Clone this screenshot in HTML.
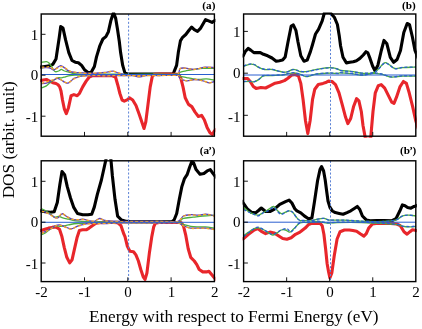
<!DOCTYPE html>
<html><head><meta charset="utf-8"><title>DOS</title>
<style>
html,body{margin:0;padding:0;background:#fff;}
body{width:422px;height:329px;overflow:hidden;}
svg{display:block;will-change:transform;}
text{font-family:"Liberation Serif",serif;fill:#000;}
</style></head><body>
<svg width="422" height="329" viewBox="0 0 422 329">
<defs>
<clipPath id="ca"><rect x="40.2" y="12.4" width="175.2" height="125.4"/></clipPath>
<clipPath id="cb"><rect x="242.6" y="12.4" width="174.2" height="125.4"/></clipPath>
<clipPath id="cap"><rect x="40.2" y="159.2" width="175.2" height="124"/></clipPath>
<clipPath id="cbp"><rect x="242.6" y="159.2" width="174.2" height="124"/></clipPath>
</defs>
<g clip-path="url(#ca)">
<path d="M39 67.2 L41.3 67 L45 66.5 L49.6 65.9 L52.8 64.4 L56 59 L59.2 37.7 L60.7 26.6 L63 28.1 L65.6 39.9 L68.8 52.6 L72 60.5 L75.2 62.2 L78.4 62.7 L81.6 65.4 L84.8 70.1 L88 72.5 L91.2 72.3 L94.4 66.5 L96.5 56.9 L99.7 46.2 L102.9 39 L105.9 36.6 L108.4 31.7 L110.8 20.8 L113.5 12.5 L115.7 18.4 L117.5 29.3 L119.3 41.5 L120.6 52.6 L122.7 65.4 L124.9 72.9 L127.4 74 L130 74 L173 74 L174 71.8 L176.6 65.4 L178.3 52.6 L180.4 40.9 L182.6 37.3 L185.8 34.5 L189 30.3 L191.7 27.1 L194.3 29.6 L197.5 31.3 L200.7 28.1 L205.6 19.6 L209.2 21.1 L212 22.4 L214.5 20.7 L217 20" fill="none" stroke="#000" stroke-width="3.1" stroke-linejoin="round" stroke-linecap="round"/>
<path d="M39 81 L43.2 80 L46.4 79.5 L49.6 81.1 L52.8 82.7 L56 83.5 L58.1 84.8 L59.7 86.9 L61 91 L62.5 100 L64.3 108.8 L66.3 113.6 L68.5 107.7 L71.1 95.7 L73.9 94.6 L77.2 95.7 L79.4 93.5 L82.7 86.9 L86 81.4 L89.3 77 L92.6 75.6 L97 75.6 L101.3 75.4 L105.7 75.6 L112.3 75.7 L115.5 77 L117.7 84.7 L119.9 93.5 L122.1 100 L124.3 101.1 L127.6 99.6 L129.4 97.8 L132.7 100 L136 105.5 L139.2 114.3 L142.5 124.1 L144 128.5 L145.8 121.9 L148 104.4 L150.2 86.9 L152.4 75.9 L154.6 74.2 L160 74.1 L178.6 74.2 L180.8 78.1 L183 86.9 L185.2 97.8 L188.5 104.4 L191.8 106.6 L195.1 112.1 L198.4 116.5 L201.6 115.4 L204.3 119.7 L207.1 127.4 L210 132.8 L212.3 134.5 L214.5 130.7 L217 129" fill="none" stroke="#e8262b" stroke-width="3.1" stroke-linejoin="round" stroke-linecap="round"/>
<path d="M41.3 62.4 C42.15 62.27 45.12 61.5 46.4 61.6 C47.68 61.7 48.12 62.15 49 63 C49.88 63.85 50.72 65.28 51.7 66.7 C52.68 68.12 53.75 70.78 54.9 71.5 C56.05 72.22 57.53 71.35 58.6 71 C59.67 70.65 60.32 69.4 61.3 69.4 C62.28 69.4 63.27 70.57 64.5 71 C65.73 71.43 67.12 71.57 68.7 72 C70.28 72.43 72.12 73.25 74 73.6 C75.88 73.95 77.33 73.98 80 74.1 C82.67 74.22 85 74.3 90 74.3 C95 74.3 103.33 74.1 110 74.1 C116.67 74.1 121.67 74.28 130 74.3 C138.33 74.32 152.12 74.22 160 74.2 C167.88 74.18 173.98 74.52 177.3 74.2 C180.62 73.88 178.37 72.88 179.9 72.3 C181.43 71.72 184.07 71.2 186.5 70.7 C188.93 70.2 191.83 69.7 194.5 69.3 C197.17 68.9 199.17 68.47 202.5 68.3 C205.83 68.13 212.5 68.3 214.5 68.3" fill="none" stroke="#4caf3c" stroke-width="1.3" stroke-linejoin="round"/>
<path d="M41.3 88 C42.15 87.65 44.85 86.88 46.4 85.9 C47.95 84.92 49.18 83.17 50.6 82.1 C52.02 81.03 53.65 80.25 54.9 79.5 C56.15 78.75 57.03 77.87 58.1 77.6 C59.17 77.33 60.07 78.03 61.3 77.9 C62.53 77.77 64.08 77.17 65.5 76.8 C66.92 76.43 68.2 75.97 69.8 75.7 C71.4 75.43 71.73 75.35 75.1 75.2 C78.47 75.05 84.18 74.87 90 74.8 C95.82 74.73 103.33 74.78 110 74.8 C116.67 74.82 121.67 74.9 130 74.9 C138.33 74.9 152.12 74.87 160 74.8 C167.88 74.73 173.98 74.27 177.3 74.5 C180.62 74.73 178.37 75.68 179.9 76.2 C181.43 76.72 184.28 77.15 186.5 77.6 C188.72 78.05 190.98 78.58 193.2 78.9 C195.42 79.22 197.6 79.5 199.8 79.5 C202 79.5 203.95 78.78 206.4 78.9 C208.85 79.02 213.15 79.98 214.5 80.2" fill="none" stroke="#4caf3c" stroke-width="1.3" stroke-linejoin="round"/>
<path d="M41.3 67.2 C42.15 67.27 44.85 67.42 46.4 67.6 C47.95 67.78 49.37 67.92 50.6 68.3 C51.83 68.68 52.73 69.98 53.8 69.9 C54.87 69.82 55.85 68.52 57 67.8 C58.15 67.08 59.45 65.6 60.7 65.6 C61.95 65.6 63.33 67 64.5 67.8 C65.67 68.6 66.47 69.7 67.7 70.4 C68.93 71.1 70.48 71.63 71.9 72 C73.32 72.37 74.85 72.5 76.2 72.6 C77.55 72.7 77.97 72.5 80 72.6 C82.03 72.7 85.9 73.08 88.4 73.2 C90.9 73.32 93.07 73.37 95 73.3 C96.93 73.23 98.33 72.93 100 72.8 C101.67 72.67 103.33 72.72 105 72.5 C106.67 72.28 108.67 71.72 110 71.5 C111.33 71.28 111.83 71.03 113 71.2 C114.17 71.37 115.67 72.07 117 72.5 C118.33 72.93 119.5 73.42 121 73.8 C122.5 74.18 123.67 74.57 126 74.8 C128.33 75.03 131 75.13 135 75.2 C139 75.27 145 75.2 150 75.2 C155 75.2 160.45 75.27 165 75.2 C169.55 75.13 174.82 75.85 177.3 74.8 C179.78 73.75 178.8 70.03 179.9 68.9 C181 67.77 182.35 68 183.9 68 C185.45 68 187.43 68.68 189.2 68.9 C190.97 69.12 192.73 69.4 194.5 69.3 C196.27 69.2 198.03 68.65 199.8 68.3 C201.57 67.95 202.65 67.32 205.1 67.2 C207.55 67.08 212.93 67.53 214.5 67.6" fill="none" stroke="#5a3cc0" stroke-width="1.3" stroke-linejoin="round"/>
<path d="M41.3 83.7 C42.15 83.62 44.85 83.63 46.4 83.2 C47.95 82.77 49.37 81.63 50.6 81.1 C51.83 80.57 52.73 80.45 53.8 80 C54.87 79.55 55.75 78.4 57 78.4 C58.25 78.4 60.05 79.38 61.3 80 C62.55 80.62 63.43 81.57 64.5 82.1 C65.57 82.63 66.63 83.37 67.7 83.2 C68.77 83.03 69.85 81.9 70.9 81.1 C71.95 80.3 72.95 79.03 74 78.4 C75.05 77.77 76.2 77.65 77.2 77.3 C78.2 76.95 78.7 76.55 80 76.3 C81.3 76.05 82.5 75.93 85 75.8 C87.5 75.67 91.67 75.5 95 75.5 C98.33 75.5 101.67 75.8 105 75.8 C108.33 75.8 111.67 75.55 115 75.5 C118.33 75.45 122 75.48 125 75.5 C128 75.52 130.83 75.38 133 75.6 C135.17 75.82 136.5 76.65 138 76.8 C139.5 76.95 140.67 76.72 142 76.5 C143.33 76.28 143 75.67 146 75.5 C149 75.33 154.78 75.58 160 75.5 C165.22 75.42 173.98 74.55 177.3 75 C180.62 75.45 178.37 77.22 179.9 78.2 C181.43 79.18 184.07 80.68 186.5 80.9 C188.93 81.12 192.28 79.62 194.5 79.5 C196.72 79.38 198.03 79.87 199.8 80.2 C201.57 80.53 203.55 81.05 205.1 81.5 C206.65 81.95 207.53 82.9 209.1 82.9 C210.67 82.9 213.6 81.73 214.5 81.5" fill="none" stroke="#5a3cc0" stroke-width="1.3" stroke-linejoin="round"/>
<path d="M41.3 67.2 C42.15 67.2 45.02 67.28 46.4 67.2 C47.78 67.12 48.37 66.33 49.6 66.7 C50.83 67.07 52.57 69.13 53.8 69.4 C55.03 69.67 55.75 68.75 57 68.3 C58.25 67.85 59.97 66.78 61.3 66.7 C62.63 66.62 63.93 67.27 65 67.8 C66.07 68.33 66.55 69.2 67.7 69.9 C68.85 70.6 69.85 71.55 71.9 72 C73.95 72.45 77.98 72.38 80 72.6 C82.02 72.82 82.33 73.18 84 73.3 C85.67 73.42 87.33 73.37 90 73.3 C92.67 73.23 97.5 73.02 100 72.9 C102.5 72.78 103.33 72.82 105 72.6 C106.67 72.38 108.67 71.87 110 71.6 C111.33 71.33 111.83 70.87 113 71 C114.17 71.13 115.67 71.93 117 72.4 C118.33 72.87 119.5 73.37 121 73.8 C122.5 74.23 123.67 74.73 126 75 C128.33 75.27 131 75.35 135 75.4 C139 75.45 145 75.3 150 75.3 C155 75.3 160.45 75.48 165 75.4 C169.55 75.32 174.82 75.88 177.3 74.8 C179.78 73.72 178.8 70 179.9 68.9 C181 67.8 182.35 68.2 183.9 68.2 C185.45 68.2 187.43 68.68 189.2 68.9 C190.97 69.12 192.73 69.6 194.5 69.5 C196.27 69.4 198.03 68.65 199.8 68.3 C201.57 67.95 202.65 67.52 205.1 67.4 C207.55 67.28 212.93 67.57 214.5 67.6" fill="none" stroke="#f5a623" stroke-width="1.3" stroke-linejoin="round" stroke-dasharray="3 2"/>
<path d="M41.3 83.2 C42.15 83.02 44.85 82.55 46.4 82.1 C47.95 81.65 49.37 80.9 50.6 80.5 C51.83 80.1 52.73 80.13 53.8 79.7 C54.87 79.27 55.75 77.85 57 77.9 C58.25 77.95 60.05 79.3 61.3 80 C62.55 80.7 63.43 81.62 64.5 82.1 C65.57 82.58 66.63 83.07 67.7 82.9 C68.77 82.73 69.85 81.77 70.9 81.1 C71.95 80.43 72.48 79.7 74 78.9 C75.52 78.1 78.17 76.78 80 76.3 C81.83 75.82 82.5 76.17 85 76 C87.5 75.83 91.67 75.32 95 75.3 C98.33 75.28 101.67 75.88 105 75.9 C108.33 75.92 111.67 75.45 115 75.4 C118.33 75.35 122 75.57 125 75.6 C128 75.63 130.83 75.43 133 75.6 C135.17 75.77 136.5 76.48 138 76.6 C139.5 76.72 140.67 76.47 142 76.3 C143.33 76.13 143 75.72 146 75.6 C149 75.48 154.78 75.7 160 75.6 C165.22 75.5 173.98 74.57 177.3 75 C180.62 75.43 178.37 77.22 179.9 78.2 C181.43 79.18 184.07 80.68 186.5 80.9 C188.93 81.12 192.28 79.62 194.5 79.5 C196.72 79.38 198.03 79.87 199.8 80.2 C201.57 80.53 203.55 81.05 205.1 81.5 C206.65 81.95 207.53 82.9 209.1 82.9 C210.67 82.9 213.6 81.73 214.5 81.5" fill="none" stroke="#f5a623" stroke-width="1.3" stroke-linejoin="round" stroke-dasharray="3 2"/>
<line x1="41.2" y1="74.5" x2="214.4" y2="74.5" stroke="#2a5fd0" stroke-width="1"/>
<line x1="128.6" y1="14" x2="128.6" y2="136.2" stroke="#5b82d6" stroke-width="1" stroke-dasharray="2.1 1.8"/>
</g>
<rect x="41.2" y="14" width="173.2" height="122.2" fill="none" stroke="#000" stroke-width="1.4"/>
<line x1="84.5" y1="136.2" x2="84.5" y2="131.9" stroke="#000" stroke-width="0.9"/>
<line x1="127.8" y1="136.2" x2="127.8" y2="131.9" stroke="#000" stroke-width="0.9"/>
<line x1="171.1" y1="136.2" x2="171.1" y2="131.9" stroke="#000" stroke-width="0.9"/>
<line x1="41.2" y1="34.3" x2="45.5" y2="34.3" stroke="#000" stroke-width="0.9"/>
<line x1="41.2" y1="75.2" x2="45.5" y2="75.2" stroke="#000" stroke-width="0.9"/>
<line x1="41.2" y1="116.2" x2="45.5" y2="116.2" stroke="#000" stroke-width="0.9"/>
<text x="38.2" y="40.3" font-size="15" text-anchor="end">1</text>
<text x="38.2" y="80.4" font-size="15" text-anchor="end">0</text>
<text x="38.2" y="122.4" font-size="15" text-anchor="end">-1</text>
<g clip-path="url(#cb)">
<path d="M241 56.5 L243.2 55.8 L245.3 51.6 L248.1 48.4 L250.7 50.1 L253.9 52.6 L257.1 52.6 L260.3 52.6 L263.5 54.3 L267.7 55.8 L272 58 L276.2 61.2 L279.4 60.7 L282.6 60.1 L285.2 56.9 L288 42 L291.2 26 L293.3 24.9 L295.9 30.3 L298 42 L300.8 55.8 L304 61.2 L307.2 60.1 L310.4 51.6 L312.4 45 L315.5 34 L318.5 29.3 L322.2 20.8 L324.5 12.5 L330 12.5 L334.3 17.2 L337.4 24.5 L339.2 35.4 L340.6 46 L343 57.3 L346.4 62.9 L349.8 62.3 L353.2 61.8 L356.5 60.7 L359.9 58.4 L363.3 55 L366 51.7 L367.8 52.8 L370 58.4 L372.7 66.3 L375 70.8 L377.9 65.2 L381.3 50.5 L384 40.4 L386.9 43.8 L390.3 57.3 L393.7 62.3 L397.1 59.5 L400.5 50.5 L403.8 32.5 L407.2 23.5 L409.5 24.6 L412.4 37 L415 50.5 L418 58" fill="none" stroke="#000" stroke-width="3.1" stroke-linejoin="round" stroke-linecap="round"/>
<path d="M241 78.5 L242.8 78.5 L247.6 78.5 L250.4 81.8 L253.3 86.5 L256.1 88.4 L260.9 87.5 L265.6 88 L270.3 85.6 L275.1 83.2 L279.8 82.3 L284.4 80.6 L287.9 78.2 L291.4 75.2 L294.9 74.5 L298.4 75.9 L300.8 83.4 L303.1 99.7 L305.5 120.8 L307.8 133.6 L310.1 120.8 L312.5 99.7 L314.8 89.2 L318.3 84.5 L323 83.4 L326.5 82.2 L328.5 81.1 L332 81.5 L335.5 84.6 L339 92.8 L342.5 105.6 L345.6 117.3 L347.9 123.6 L350.7 118.5 L353.5 106.8 L356.6 98.6 L358.9 100.9 L361.3 111.5 L363 125.5 L365.5 139 L370.6 139 L373 111.5 L375.3 92.8 L378.3 85.7 L381.2 84.6 L384.7 88.1 L388.2 95.1 L391.7 102.1 L394 103.3 L396.4 97.4 L399.9 86.9 L403.4 81.5 L406.4 83.4 L409.2 92.8 L412.7 106.8 L415.8 120.8 L418 128" fill="none" stroke="#e8262b" stroke-width="3.1" stroke-linejoin="round" stroke-linecap="round"/>
<path d="M243.5 66.2 C244.5 65.88 247.72 64.55 249.5 64.3 C251.28 64.05 252.62 64.15 254.2 64.7 C255.78 65.25 257.27 66.8 259 67.6 C260.73 68.4 262.4 69.18 264.6 69.5 C266.8 69.82 270.13 69.27 272.2 69.5 C274.27 69.73 275.62 70.57 277 70.9 C278.38 71.23 279.23 71.28 280.5 71.5 C281.77 71.72 283.23 72.25 284.6 72.2 C285.97 72.15 287.32 71.67 288.7 71.2 C290.08 70.73 291.52 69.58 292.9 69.4 C294.28 69.22 295.87 69.75 297 70.1 C298.13 70.45 298.23 71.25 299.7 71.5 C301.17 71.75 303.75 71.78 305.8 71.6 C307.85 71.42 309.95 70.8 312 70.4 C314.05 70 316.05 69.58 318.1 69.2 C320.15 68.82 322.25 68.37 324.3 68.1 C326.35 67.83 328.35 67.52 330.4 67.6 C332.45 67.68 334.8 68.12 336.6 68.6 C338.4 69.08 338.73 70.03 341.2 70.5 C343.67 70.97 347.82 70.93 351.4 71.4 C354.98 71.87 359.07 73.05 362.7 73.3 C366.33 73.55 370.67 73.53 373.2 72.9 C375.73 72.27 376.02 71.18 377.9 69.5 C379.78 67.82 382.6 63.6 384.5 62.8 C386.4 62 387.55 63.75 389.3 64.7 C391.05 65.65 392.78 68.02 395 68.5 C397.22 68.98 399.45 67.82 402.6 67.6 C405.75 67.38 411.67 67.27 413.9 67.2 C416.13 67.13 415.65 67.2 416 67.2" fill="none" stroke="#4caf3c" stroke-width="1.3" stroke-linejoin="round"/>
<path d="M243.5 66 C244.5 65.68 247.72 64.35 249.5 64.1 C251.28 63.85 252.62 63.95 254.2 64.5 C255.78 65.05 257.27 66.6 259 67.4 C260.73 68.2 262.4 68.98 264.6 69.3 C266.8 69.62 270.13 69.07 272.2 69.3 C274.27 69.53 275.62 70.32 277 70.7 C278.38 71.08 279.23 71.3 280.5 71.6 C281.77 71.9 283.23 72.52 284.6 72.5 C285.97 72.48 287.32 71.97 288.7 71.5 C290.08 71.03 291.52 69.88 292.9 69.7 C294.28 69.52 295.87 70.15 297 70.4 C298.13 70.65 298.23 70.97 299.7 71.2 C301.17 71.43 303.75 71.9 305.8 71.8 C307.85 71.7 309.95 71 312 70.6 C314.05 70.2 316.05 69.78 318.1 69.4 C320.15 69.02 322.25 68.57 324.3 68.3 C326.35 68.03 328.35 67.72 330.4 67.8 C332.45 67.88 334.8 68.32 336.6 68.8 C338.4 69.28 338.73 70.23 341.2 70.7 C343.67 71.17 347.82 71.2 351.4 71.6 C354.98 72 359.07 72.92 362.7 73.1 C366.33 73.28 370.67 73.27 373.2 72.7 C375.73 72.13 376.02 71.3 377.9 69.7 C379.78 68.1 382.6 63.88 384.5 63.1 C386.4 62.32 387.55 64.07 389.3 65 C391.05 65.93 392.78 68.3 395 68.7 C397.22 69.1 399.45 67.68 402.6 67.4 C405.75 67.12 411.67 67.07 413.9 67 C416.13 66.93 415.65 67 416 67" fill="none" stroke="#2a5fd0" stroke-width="1.3" stroke-linejoin="round" stroke-dasharray="3 2"/>
<path d="M243.5 81.8 C244.5 81.72 247.72 81.3 249.5 81.3 C251.28 81.3 252.62 82.12 254.2 81.8 C255.78 81.48 257.58 80.35 259 79.4 C260.42 78.45 261.45 76.73 262.7 76.1 C263.95 75.47 264.92 75.68 266.5 75.6 C268.08 75.52 269.98 75.67 272.2 75.6 C274.42 75.53 277.97 75.32 279.8 75.2 C281.63 75.08 281.72 75.17 283.2 74.9 C284.68 74.63 286.87 73.93 288.7 73.6 C290.53 73.27 292.37 72.8 294.2 72.9 C296.03 73 298.53 73.9 299.7 74.2 C300.87 74.5 300.18 74.3 301.2 74.7 C302.22 75.1 304.27 76.42 305.8 76.6 C307.33 76.78 308.87 76.18 310.4 75.8 C311.93 75.42 312.95 74.68 315 74.3 C317.05 73.92 320.13 73.68 322.7 73.5 C325.27 73.32 327.83 73.2 330.4 73.2 C332.97 73.2 336.5 73.55 338.1 73.5 C339.7 73.45 337.78 72.88 340 72.9 C342.22 72.92 347.62 73.22 351.4 73.6 C355.18 73.98 358.92 75.25 362.7 75.2 C366.48 75.15 370.93 73.47 374.1 73.3 C377.27 73.13 378.85 73.57 381.7 74.2 C384.55 74.83 387.72 76.78 391.2 77.1 C394.68 77.42 398.47 76.27 402.6 76.1 C406.73 75.93 413.77 76.1 416 76.1" fill="none" stroke="#4caf3c" stroke-width="1.3" stroke-linejoin="round"/>
<path d="M243.5 81.6 C244.5 81.52 247.72 81.1 249.5 81.1 C251.28 81.1 252.62 81.92 254.2 81.6 C255.78 81.28 257.58 80.15 259 79.2 C260.42 78.25 261.45 76.53 262.7 75.9 C263.95 75.27 264.92 75.48 266.5 75.4 C268.08 75.32 269.98 75.47 272.2 75.4 C274.42 75.33 277.97 75.12 279.8 75 C281.63 74.88 281.72 74.97 283.2 74.7 C284.68 74.43 286.87 73.73 288.7 73.4 C290.53 73.07 292.37 72.6 294.2 72.7 C296.03 72.8 298.53 73.7 299.7 74 C300.87 74.3 300.18 74.1 301.2 74.5 C302.22 74.9 304.27 76.22 305.8 76.4 C307.33 76.58 308.87 75.98 310.4 75.6 C311.93 75.22 312.95 74.48 315 74.1 C317.05 73.72 320.13 73.48 322.7 73.3 C325.27 73.12 327.83 73 330.4 73 C332.97 73 336.5 73.35 338.1 73.3 C339.7 73.25 337.78 72.68 340 72.7 C342.22 72.72 347.62 73.02 351.4 73.4 C355.18 73.78 358.92 75.05 362.7 75 C366.48 74.95 370.93 73.27 374.1 73.1 C377.27 72.93 378.85 73.37 381.7 74 C384.55 74.63 387.72 76.58 391.2 76.9 C394.68 77.22 398.47 76.07 402.6 75.9 C406.73 75.73 413.77 75.9 416 75.9" fill="none" stroke="#2a5fd0" stroke-width="1.3" stroke-linejoin="round" stroke-dasharray="3 2"/>
<line x1="243.6" y1="75" x2="415.8" y2="75" stroke="#2a5fd0" stroke-width="1"/>
<line x1="330.5" y1="14" x2="330.5" y2="136.2" stroke="#5b82d6" stroke-width="1" stroke-dasharray="2.1 1.8"/>
</g>
<rect x="243.6" y="14" width="172.2" height="122.2" fill="none" stroke="#000" stroke-width="1.4"/>
<line x1="286.65" y1="136.2" x2="286.65" y2="131.9" stroke="#000" stroke-width="0.9"/>
<line x1="329.7" y1="136.2" x2="329.7" y2="131.9" stroke="#000" stroke-width="0.9"/>
<line x1="372.75" y1="136.2" x2="372.75" y2="131.9" stroke="#000" stroke-width="0.9"/>
<line x1="243.6" y1="31.4" x2="247.9" y2="31.4" stroke="#000" stroke-width="0.9"/>
<line x1="243.6" y1="73.2" x2="247.9" y2="73.2" stroke="#000" stroke-width="0.9"/>
<line x1="243.6" y1="115.3" x2="247.9" y2="115.3" stroke="#000" stroke-width="0.9"/>
<text x="240.6" y="37.4" font-size="15" text-anchor="end">1</text>
<text x="240.6" y="78.4" font-size="15" text-anchor="end">0</text>
<text x="240.6" y="121.5" font-size="15" text-anchor="end">-1</text>
<g clip-path="url(#cap)">
<path d="M39 210.9 L41.3 210.9 L45.2 211.7 L50.3 212.2 L54.2 211.7 L57.3 202.5 L59.8 185 L62 171.5 L64.6 174.7 L67.2 186.4 L70.5 198 L73.6 207.1 L77.5 213.5 L82.7 214.8 L87.8 214.8 L91.7 214.3 L94.3 207.1 L97.4 194.1 L101.4 180 L104.5 166 L106.5 157 L110.5 157 L111 160.3 L112.4 176 L115 199.3 L117.6 216.1 L121.5 220 L126.6 221.4 L130 221.6 L172 221.7 L174.1 220 L176.7 213.5 L179.3 199.3 L181.9 186.4 L184.5 178.6 L187.1 174.7 L189.7 167 L191.7 161.8 L193.5 162.6 L196.1 169.6 L200 174.2 L203.9 173.4 L207.2 170.9 L210.3 169.6 L212.9 173.4 L215 176 L217 178" fill="none" stroke="#000" stroke-width="3.1" stroke-linejoin="round" stroke-linecap="round"/>
<path d="M39 230.5 L41.2 230.5 L44.9 229.3 L48.5 228.1 L52.2 227.4 L55.8 226.9 L59.5 229.3 L61.9 236.6 L64.3 247.6 L66.8 257.3 L69.7 262.9 L72.1 259.7 L74.5 248.8 L77 237.8 L79.4 230.5 L82.6 229.8 L86.2 229.8 L89.1 228.1 L92.3 225.7 L95.9 223.2 L99.6 222.6 L105.7 222.5 L113 222.5 L117.8 222.8 L121 225.7 L123.9 234.2 L125 236.6 L127.4 246.4 L129.9 251.2 L133.5 251.7 L135.9 254.9 L138.4 261 L140.8 269.5 L143.2 276.8 L145 279.5 L146.9 273.1 L149.3 253.6 L151.8 236.6 L153.7 226.9 L155.4 223.2 L159.1 222.5 L181 222.5 L183.4 225.7 L185.8 235.4 L188.2 248.8 L190.7 257.3 L194.3 261 L196.8 264.6 L199.2 269.5 L202.8 271.9 L206.5 271.9 L208.9 271.2 L211.4 274.3 L214.5 278 L217 280" fill="none" stroke="#e8262b" stroke-width="3.1" stroke-linejoin="round" stroke-linecap="round"/>
<path d="M41.3 208.6 C42.03 208.95 44.25 209.88 45.7 210.7 C47.15 211.52 48.58 212.43 50 213.5 C51.42 214.57 52.78 216.62 54.2 217.1 C55.62 217.58 57.07 216.28 58.5 216.4 C59.93 216.52 61.15 217.33 62.8 217.8 C64.45 218.27 66.27 218.68 68.4 219.2 C70.53 219.72 72 220.47 75.6 220.9 C79.2 221.33 84.27 221.65 90 221.8 C95.73 221.95 103.33 221.77 110 221.8 C116.67 221.83 121.67 222 130 222 C138.33 222 152.12 221.82 160 221.8 C167.88 221.78 173.4 222.47 177.3 221.9 C181.2 221.33 180.77 219.18 183.4 218.4 C186.03 217.62 189.87 217.6 193.1 217.2 C196.33 216.8 199.23 216.33 202.8 216 C206.37 215.67 212.55 215.33 214.5 215.2" fill="none" stroke="#4caf3c" stroke-width="1.3" stroke-linejoin="round"/>
<path d="M41.3 234.9 C42.03 234.53 44.25 233.65 45.7 232.7 C47.15 231.75 48.35 230.32 50 229.2 C51.65 228.08 53.72 226.48 55.6 226 C57.48 225.52 59.17 226.48 61.3 226.3 C63.43 226.12 65.78 225.37 68.4 224.9 C71.02 224.43 73.4 223.82 77 223.5 C80.6 223.18 84.5 223.12 90 223 C95.5 222.88 103.33 222.87 110 222.8 C116.67 222.73 121.67 222.63 130 222.6 C138.33 222.57 152.12 222.63 160 222.6 C167.88 222.57 173.4 222.08 177.3 222.4 C181.2 222.72 181.17 223.83 183.4 224.5 C185.63 225.17 188.27 226 190.7 226.4 C193.13 226.8 195.57 226.82 198 226.9 C200.43 226.98 202.55 226.7 205.3 226.9 C208.05 227.1 212.97 227.9 214.5 228.1" fill="none" stroke="#4caf3c" stroke-width="1.3" stroke-linejoin="round"/>
<path d="M41.3 211 C42.03 211.18 44.25 211.57 45.7 212.1 C47.15 212.63 48.58 213.37 50 214.2 C51.42 215.03 52.9 216.5 54.2 217.1 C55.5 217.7 56.5 218.35 57.8 217.8 C59.1 217.25 60.7 214.15 62 213.8 C63.3 213.45 64.05 214.85 65.6 215.7 C67.15 216.55 69.4 218.2 71.3 218.9 C73.2 219.6 75.1 219.85 77 219.9 C78.9 219.95 80.8 219.08 82.7 219.2 C84.6 219.32 86.52 220.23 88.4 220.6 C90.28 220.97 92.12 221.75 94 221.4 C95.88 221.05 97.87 218.65 99.7 218.5 C101.53 218.35 102.45 220.05 105 220.5 C107.55 220.95 110.83 221.03 115 221.2 C119.17 221.37 122.5 221.47 130 221.5 C137.5 221.53 152.12 221.38 160 221.4 C167.88 221.42 173.4 222.5 177.3 221.6 C181.2 220.7 181.17 217.15 183.4 216 C185.63 214.85 188.27 214.83 190.7 214.7 C193.13 214.57 195.57 215.28 198 215.2 C200.43 215.12 203.28 214.28 205.3 214.2 C207.32 214.12 208.57 214.4 210.1 214.7 C211.63 215 213.77 215.78 214.5 216" fill="none" stroke="#5a3cc0" stroke-width="1.3" stroke-linejoin="round"/>
<path d="M41.3 233.4 C42.03 233.05 44.25 232 45.7 231.3 C47.15 230.6 48.35 230.15 50 229.2 C51.65 228.25 53.95 226.32 55.6 225.6 C57.25 224.88 58.23 224.67 59.9 224.9 C61.57 225.13 63.7 226.33 65.6 227 C67.5 227.67 69.4 229.02 71.3 228.9 C73.2 228.78 75.1 227.02 77 226.3 C78.9 225.58 80.8 225.07 82.7 224.6 C84.6 224.13 86.03 223.73 88.4 223.5 C90.77 223.27 94.13 223.18 96.9 223.2 C99.67 223.22 101.98 223.6 105 223.6 C108.02 223.6 110.83 223.32 115 223.2 C119.17 223.08 122.5 222.93 130 222.9 C137.5 222.87 152.12 223.02 160 223 C167.88 222.98 173.4 222.35 177.3 222.8 C181.2 223.25 181.17 224.82 183.4 225.7 C185.63 226.58 188.27 227.7 190.7 228.1 C193.13 228.5 195.57 228.1 198 228.1 C200.43 228.1 202.55 227.9 205.3 228.1 C208.05 228.3 212.97 229.1 214.5 229.3" fill="none" stroke="#5a3cc0" stroke-width="1.3" stroke-linejoin="round"/>
<path d="M41.3 211.2 C42.03 211.4 44.25 211.85 45.7 212.4 C47.15 212.95 48.58 213.67 50 214.5 C51.42 215.33 52.9 216.9 54.2 217.4 C55.5 217.9 56.5 218.17 57.8 217.5 C59.1 216.83 60.7 213.67 62 213.4 C63.3 213.13 64.05 214.95 65.6 215.9 C67.15 216.85 69.4 218.47 71.3 219.1 C73.2 219.73 75.1 219.63 77 219.7 C78.9 219.77 80.8 219.4 82.7 219.5 C84.6 219.6 86.52 220.02 88.4 220.3 C90.28 220.58 92.12 221.45 94 221.2 C95.88 220.95 97.87 218.88 99.7 218.8 C101.53 218.72 102.45 220.27 105 220.7 C107.55 221.13 110.83 221.23 115 221.4 C119.17 221.57 122.5 221.68 130 221.7 C137.5 221.72 152.12 221.52 160 221.5 C167.88 221.48 173.4 222.48 177.3 221.6 C181.2 220.72 181.17 217.32 183.4 216.2 C185.63 215.08 188.27 215.03 190.7 214.9 C193.13 214.77 195.57 215.48 198 215.4 C200.43 215.32 203.28 214.48 205.3 214.4 C207.32 214.32 208.57 214.6 210.1 214.9 C211.63 215.2 213.77 215.98 214.5 216.2" fill="none" stroke="#f5a623" stroke-width="1.3" stroke-linejoin="round" stroke-dasharray="3 2"/>
<path d="M41.3 233.6 C42.03 233.25 44.25 232.2 45.7 231.5 C47.15 230.8 48.35 230.33 50 229.4 C51.65 228.47 53.95 226.6 55.6 225.9 C57.25 225.2 58.23 224.97 59.9 225.2 C61.57 225.43 63.7 226.65 65.6 227.3 C67.5 227.95 69.4 229.23 71.3 229.1 C73.2 228.97 75.1 227.22 77 226.5 C78.9 225.78 80.8 225.25 82.7 224.8 C84.6 224.35 86.03 224.02 88.4 223.8 C90.77 223.58 94.13 223.57 96.9 223.5 C99.67 223.43 101.98 223.48 105 223.4 C108.02 223.32 110.83 223.1 115 223 C119.17 222.9 122.5 222.83 130 222.8 C137.5 222.77 152.12 222.8 160 222.8 C167.88 222.8 173.4 222.28 177.3 222.8 C181.2 223.32 181.17 224.98 183.4 225.9 C185.63 226.82 188.27 227.9 190.7 228.3 C193.13 228.7 195.57 228.3 198 228.3 C200.43 228.3 202.55 228.1 205.3 228.3 C208.05 228.5 212.97 229.3 214.5 229.5" fill="none" stroke="#f5a623" stroke-width="1.3" stroke-linejoin="round" stroke-dasharray="3 2"/>
<line x1="41.2" y1="222.3" x2="214.4" y2="222.3" stroke="#2a5fd0" stroke-width="1"/>
<line x1="128.6" y1="160.8" x2="128.6" y2="281.6" stroke="#5b82d6" stroke-width="1" stroke-dasharray="2.1 1.8"/>
</g>
<rect x="41.2" y="160.8" width="173.2" height="120.8" fill="none" stroke="#000" stroke-width="1.4"/>
<line x1="84.5" y1="281.6" x2="84.5" y2="277.3" stroke="#000" stroke-width="0.9"/>
<line x1="127.8" y1="281.6" x2="127.8" y2="277.3" stroke="#000" stroke-width="0.9"/>
<line x1="171.1" y1="281.6" x2="171.1" y2="277.3" stroke="#000" stroke-width="0.9"/>
<line x1="41.2" y1="181.3" x2="45.5" y2="181.3" stroke="#000" stroke-width="0.9"/>
<line x1="41.2" y1="222.2" x2="45.5" y2="222.2" stroke="#000" stroke-width="0.9"/>
<line x1="41.2" y1="263" x2="45.5" y2="263" stroke="#000" stroke-width="0.9"/>
<text x="38.2" y="187.3" font-size="15" text-anchor="end">1</text>
<text x="38.2" y="227.4" font-size="15" text-anchor="end">0</text>
<text x="38.2" y="269.2" font-size="15" text-anchor="end">-1</text>
<g clip-path="url(#cbp)">
<path d="M241 200.5 L242.8 202.3 L247.1 208.7 L251.4 212.2 L255.6 212.9 L258.5 210.5 L261.3 208 L265.6 211.5 L269.9 211.5 L274.1 209.4 L279.8 204.4 L285.5 201.6 L289.1 200.1 L291.9 203 L294.8 208.7 L296.9 210.9 L300.8 212.8 L304.6 216.1 L308.5 218.7 L311.9 217.9 L314.5 201.5 L317.6 180.5 L320 169.6 L321.6 166.6 L323.6 171 L325.2 180 L326.5 190 L328 201 L330 207.5 L332.4 211 L335.3 212.6 L339.2 213.4 L343.1 214.2 L347 212.6 L350.8 210.8 L354.7 208.2 L357.3 206.4 L359.8 209.5 L362.4 216 L366.3 219.9 L370.2 220.7 L376.6 220.6 L384.4 220.6 L392.1 220.7 L396 218.6 L399.9 210.8 L402.4 204.9 L405 205.7 L407.6 207.5 L410.9 208.2 L414.1 206.4 L416.6 205.7 L418 205" fill="none" stroke="#000" stroke-width="3.1" stroke-linejoin="round" stroke-linecap="round"/>
<path d="M241 239 L243.6 238.5 L248.5 234.3 L254.2 230 L257.8 228.6 L261.3 231.4 L265.6 233.6 L269.9 232.1 L274.1 232.9 L278.4 235.7 L282.7 238.5 L286.9 239.3 L291.2 237.8 L295.5 234.3 L300 232.1 L302 230.5 L305.2 228.1 L308.6 224.5 L311.8 223.4 L316.6 223.2 L320.3 223.4 L322.2 225.7 L323.9 234.2 L325.6 248.8 L327.1 263.4 L328.6 272 L329.9 277.9 L331.8 273 L334.2 256 L337.1 239 L340.1 231.7 L344.4 230 L349.3 230 L352.9 230.5 L356.6 231.2 L360.2 233.7 L363.9 236.1 L366.3 233.7 L368.7 228.1 L372.4 224 L376 223.4 L383.3 223.3 L390.6 223.4 L396.7 224 L400.3 225.7 L404 231.7 L407.1 234.2 L410 231.7 L412.5 229.8 L416.1 230.5 L418 231" fill="none" stroke="#e8262b" stroke-width="3.1" stroke-linejoin="round" stroke-linecap="round"/>
<path d="M243.6 207.2 C244.42 207.92 246.73 210.3 248.5 211.5 C250.27 212.7 252.53 213.8 254.2 214.4 C255.87 215 257.07 215.35 258.5 215.1 C259.93 214.85 261.15 213.85 262.8 212.9 C264.45 211.95 266.63 210.47 268.4 209.4 C270.17 208.33 271.97 206.38 273.4 206.5 C274.83 206.62 275.68 208.92 277 210.1 C278.32 211.28 279.88 213.25 281.3 213.6 C282.72 213.95 284.2 212.67 285.5 212.2 C286.8 211.73 287.92 210.8 289.1 210.8 C290.28 210.8 291.3 211.02 292.6 212.2 C293.9 213.38 295.67 216.5 296.9 217.9 C298.13 219.3 298.95 220.15 300 220.6 C301.05 221.05 301.45 220.57 303.2 220.6 C304.95 220.63 308.07 221.05 310.5 220.8 C312.93 220.55 315.57 219.5 317.8 219.1 C320.03 218.7 322.07 218.23 323.9 218.4 C325.73 218.57 327.4 219.82 328.8 220.1 C330.2 220.38 329.7 220.1 332.3 220.1 C334.9 220.1 340.35 219.98 344.4 220.1 C348.45 220.22 352.55 220.57 356.6 220.8 C360.65 221.03 364.25 221.38 368.7 221.5 C373.15 221.62 378.83 221.73 383.3 221.5 C387.77 221.27 392.27 221.03 395.5 220.1 C398.73 219.17 400.48 216.72 402.7 215.9 C404.92 215.08 406.58 215.2 408.8 215.2 C411.02 215.2 414.8 215.78 416 215.9" fill="none" stroke="#4caf3c" stroke-width="1.3" stroke-linejoin="round"/>
<path d="M243.6 209.4 C244.42 209.83 246.73 211.17 248.5 212 C250.27 212.83 252.53 213.77 254.2 214.4 C255.87 215.03 256.83 216.17 258.5 215.8 C260.17 215.43 262.55 213.03 264.2 212.2 C265.85 211.37 266.87 211.63 268.4 210.8 C269.93 209.97 271.97 207.2 273.4 207.2 C274.83 207.2 275.68 209.6 277 210.8 C278.32 212 279.4 214.4 281.3 214.4 C283.2 214.4 286.52 211.17 288.4 210.8 C290.28 210.43 291.18 210.97 292.6 212.2 C294.02 213.43 295.67 216.83 296.9 218.2 C298.13 219.57 298.95 220.05 300 220.4 C301.05 220.75 301.45 220.23 303.2 220.3 C304.95 220.37 308.07 221 310.5 220.8 C312.93 220.6 315.57 219.5 317.8 219.1 C320.03 218.7 322.07 218.23 323.9 218.4 C325.73 218.57 327.4 219.82 328.8 220.1 C330.2 220.38 329.7 220.1 332.3 220.1 C334.9 220.1 340.35 219.98 344.4 220.1 C348.45 220.22 352.55 220.57 356.6 220.8 C360.65 221.03 364.25 221.38 368.7 221.5 C373.15 221.62 378.83 221.73 383.3 221.5 C387.77 221.27 392.27 221.03 395.5 220.1 C398.73 219.17 400.48 216.72 402.7 215.9 C404.92 215.08 406.58 215.2 408.8 215.2 C411.02 215.2 414.8 215.78 416 215.9" fill="none" stroke="#2a5fd0" stroke-width="1.3" stroke-linejoin="round" stroke-dasharray="3 2"/>
<path d="M243.6 235.7 C244.42 235.1 246.73 233.28 248.5 232.1 C250.27 230.92 252.53 229.3 254.2 228.6 C255.87 227.9 256.83 227.67 258.5 227.9 C260.17 228.13 262.55 229.17 264.2 230 C265.85 230.83 266.98 232.07 268.4 232.9 C269.82 233.73 271.27 235 272.7 235 C274.13 235 275.57 233.73 277 232.9 C278.43 232.07 279.88 230.48 281.3 230 C282.72 229.52 284.08 229.65 285.5 230 C286.92 230.35 288.37 232.33 289.8 232.1 C291.23 231.87 292.4 230.13 294.1 228.6 C295.8 227.07 297.67 223.92 300 222.9 C302.33 221.88 305.13 222.73 308.1 222.5 C311.07 222.27 315.17 221.5 317.8 221.5 C320.43 221.5 322.07 222.22 323.9 222.5 C325.73 222.78 326.6 223.2 328.8 223.2 C331 223.2 331.67 222.62 337.1 222.5 C342.53 222.38 351.67 222.18 361.4 222.5 C371.13 222.82 388.62 223.75 395.5 224.4 C402.38 225.05 400.28 225.98 402.7 226.4 C405.12 226.82 407.78 226.9 410 226.9 C412.22 226.9 415 226.48 416 226.4" fill="none" stroke="#4caf3c" stroke-width="1.3" stroke-linejoin="round"/>
<path d="M243.6 236.5 C244.42 235.88 246.73 234.12 248.5 232.8 C250.27 231.48 252.53 229.53 254.2 228.6 C255.87 227.67 256.83 226.97 258.5 227.2 C260.17 227.43 262.55 229.13 264.2 230 C265.85 230.87 266.98 231.63 268.4 232.4 C269.82 233.17 271.27 234.6 272.7 234.6 C274.13 234.6 275.57 233.17 277 232.4 C278.43 231.63 279.65 230.63 281.3 230 C282.95 229.37 285.37 228.27 286.9 228.6 C288.43 228.93 289.3 231.95 290.5 232 C291.7 232.05 292.52 230.47 294.1 228.9 C295.68 227.33 297.67 223.72 300 222.6 C302.33 221.48 305.13 222.43 308.1 222.2 C311.07 221.97 315.17 221.2 317.8 221.2 C320.43 221.2 322.07 221.92 323.9 222.2 C325.73 222.48 326.6 222.9 328.8 222.9 C331 222.9 331.67 222.32 337.1 222.2 C342.53 222.08 351.67 221.88 361.4 222.2 C371.13 222.52 388.62 223.45 395.5 224.1 C402.38 224.75 400.28 225.68 402.7 226.1 C405.12 226.52 407.78 226.6 410 226.6 C412.22 226.6 415 226.18 416 226.1" fill="none" stroke="#2a5fd0" stroke-width="1.3" stroke-linejoin="round" stroke-dasharray="3 2"/>
<line x1="243.6" y1="222.2" x2="415.8" y2="222.2" stroke="#2a5fd0" stroke-width="1"/>
<line x1="330.5" y1="160.8" x2="330.5" y2="281.6" stroke="#5b82d6" stroke-width="1" stroke-dasharray="2.1 1.8"/>
</g>
<rect x="243.6" y="160.8" width="172.2" height="120.8" fill="none" stroke="#000" stroke-width="1.4"/>
<line x1="286.65" y1="281.6" x2="286.65" y2="277.3" stroke="#000" stroke-width="0.9"/>
<line x1="329.7" y1="281.6" x2="329.7" y2="277.3" stroke="#000" stroke-width="0.9"/>
<line x1="372.75" y1="281.6" x2="372.75" y2="277.3" stroke="#000" stroke-width="0.9"/>
<line x1="243.6" y1="181.2" x2="247.9" y2="181.2" stroke="#000" stroke-width="0.9"/>
<line x1="243.6" y1="222.2" x2="247.9" y2="222.2" stroke="#000" stroke-width="0.9"/>
<line x1="243.6" y1="263" x2="247.9" y2="263" stroke="#000" stroke-width="0.9"/>
<text x="240.6" y="187.2" font-size="15" text-anchor="end">1</text>
<text x="240.6" y="227.4" font-size="15" text-anchor="end">0</text>
<text x="240.6" y="269.2" font-size="15" text-anchor="end">-1</text>
<text x="41.5" y="296.7" font-size="15" text-anchor="middle">-2</text>
<text x="84.8" y="296.7" font-size="15" text-anchor="middle">-1</text>
<text x="128.1" y="296.7" font-size="15" text-anchor="middle">0</text>
<text x="171.4" y="296.7" font-size="15" text-anchor="middle">1</text>
<text x="214.7" y="296.7" font-size="15" text-anchor="middle">2</text>
<text x="243.9" y="296.7" font-size="15" text-anchor="middle">-2</text>
<text x="286.95" y="296.7" font-size="15" text-anchor="middle">-1</text>
<text x="330" y="296.7" font-size="15" text-anchor="middle">0</text>
<text x="373.05" y="296.7" font-size="15" text-anchor="middle">1</text>
<text x="416.1" y="296.7" font-size="15" text-anchor="middle">2</text>
<text x="215.4" y="8.7" font-size="11.2" font-weight="bold" text-anchor="end">(a)</text>
<text x="415.8" y="8.9" font-size="11.2" font-weight="bold" text-anchor="end">(b)</text>
<text x="215.4" y="154.3" font-size="11.2" font-weight="bold" text-anchor="end">(a<tspan dx="-0.9">&#8217;</tspan><tspan dx="-0.3">)</tspan></text>
<text x="416.3" y="154.3" font-size="11.2" font-weight="bold" text-anchor="end">(b<tspan dx="-0.9">&#8217;</tspan><tspan dx="-0.3">)</tspan></text>
<text x="89" y="322.4" font-size="17.2">Energy with respect to Fermi Energy (eV)</text>
<text transform="translate(13.5 198.3) rotate(-90)" x="0" y="0" font-size="17.2">DOS (arbit. unit)</text>
</svg>
</body></html>
